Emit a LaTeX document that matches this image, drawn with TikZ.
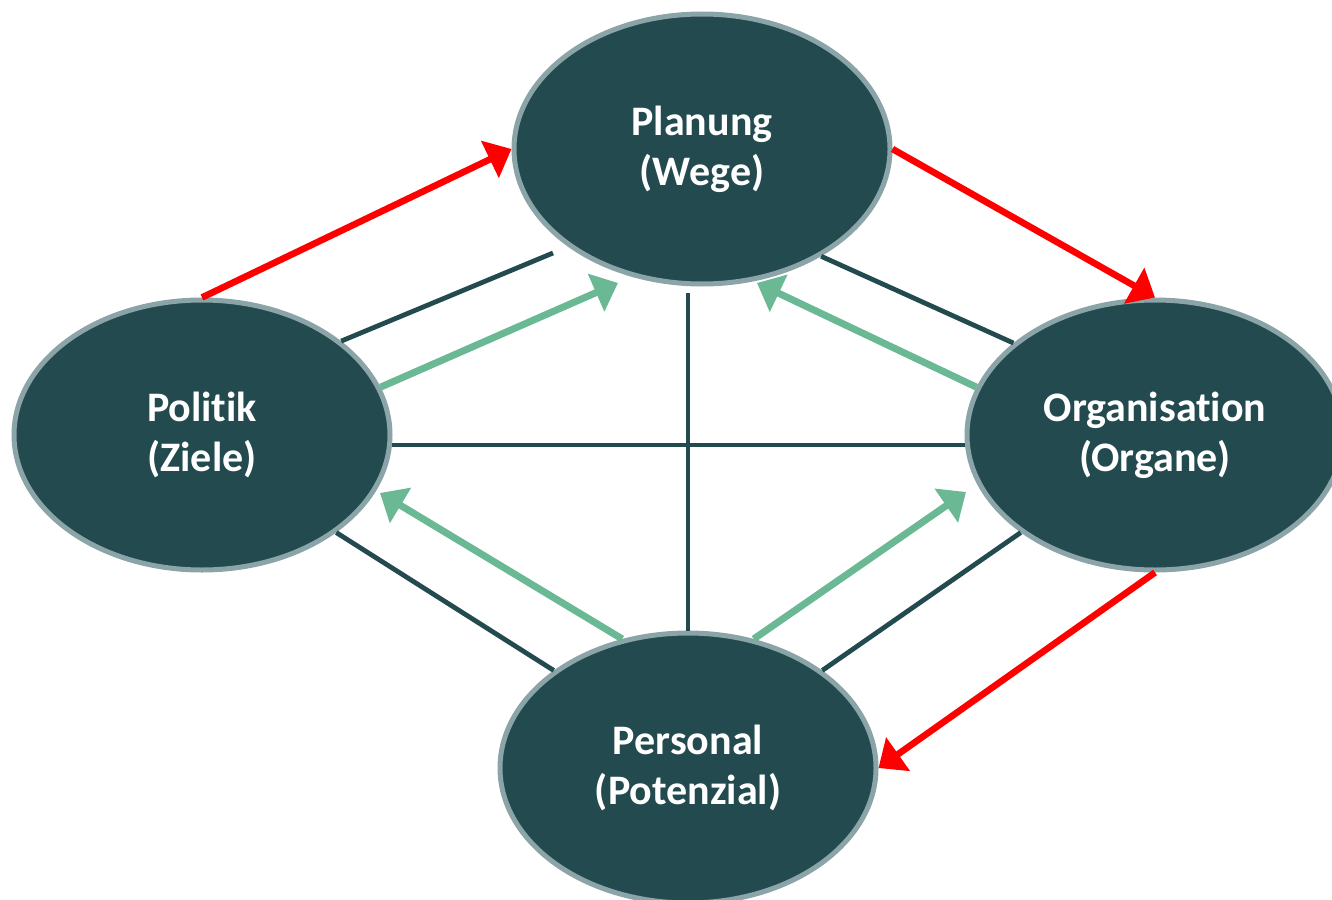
\documentclass[tikz,border=0pt]{standalone}
\usepackage{fontspec}
\setmainfont[Ligatures=NoCommon]{Carlito}
\usetikzlibrary{arrows.meta,shapes.geometric}
\definecolor{Deep}{HTML}{234B4F}
\definecolor{Rim}{HTML}{8BA4A7}
\definecolor{Mint}{HTML}{6AB894}
\definecolor{Signal}{HTML}{FF0000}
\tikzset{
  blob/.style={ellipse, draw=Rim, line width=2.5pt, fill=Deep, text=white,
               minimum width=188pt, minimum height=135pt, inner sep=0pt,
               align=center, font=\bfseries\fontsize{21}{25}\selectfont},
  arrow/.style={-{Triangle[length=12pt,width=20pt]}, line width=3.3pt},
  arrowred/.style={arrow, draw=Signal},
  arrowmint/.style={arrow, draw=Mint, line width=3.5pt},
  link/.style={draw=Deep, line width=2.4pt},
}

\begin{document}
\begin{tikzpicture}[x=0.5pt, y=-0.5pt]
  \useasboundingbox (0,0) rectangle (1332,899);
  \node[blob] (planung) at (702,149) {Planung\\(Wege)};
  \node[blob] (politik) at (202,435) {Politik\\(Ziele)};
  \node[blob] (orga) at (1155,435) {Organisation\\(Organe)};
  \node[blob] (personal) at (688,768) {Personal\\(Potenzial)};
  % loose ends short of the ellipses
  \coordinate (linkpla) at (553,253);
  \coordinate (linktop) at (688,293);
  \coordinate (mintpla1) at (618,283);
  \coordinate (mintpla2) at (757,283);
  \coordinate (mintpol) at (380,493);
  \coordinate (mintorg) at (966,492);
  \draw[link] (politik.34) -- (linkpla);
  \draw[link] (planung.-42) -- (orga.147);
  \draw[link] (politik.-36) -- (personal.144);
  \draw[link] (personal.36) -- (orga.-144);
  \draw[link] (politik.-3) -- (orga.-177);
  \draw[link] (linktop) -- (personal.north);
  \draw[arrowmint] (politik.15) -- (mintpla1);
  \draw[arrowmint] (orga.165) -- (mintpla2);
  \draw[arrowmint] (personal.117) -- (mintpol);
  \draw[arrowmint] (personal.63) -- (mintorg);
  \draw[arrowred] (politik.north) -- (planung.west);
  \draw[arrowred] (planung.east) -- (orga.north);
  \draw[arrowred] (orga.south) -- (personal.east);
\end{tikzpicture}
\end{document}
